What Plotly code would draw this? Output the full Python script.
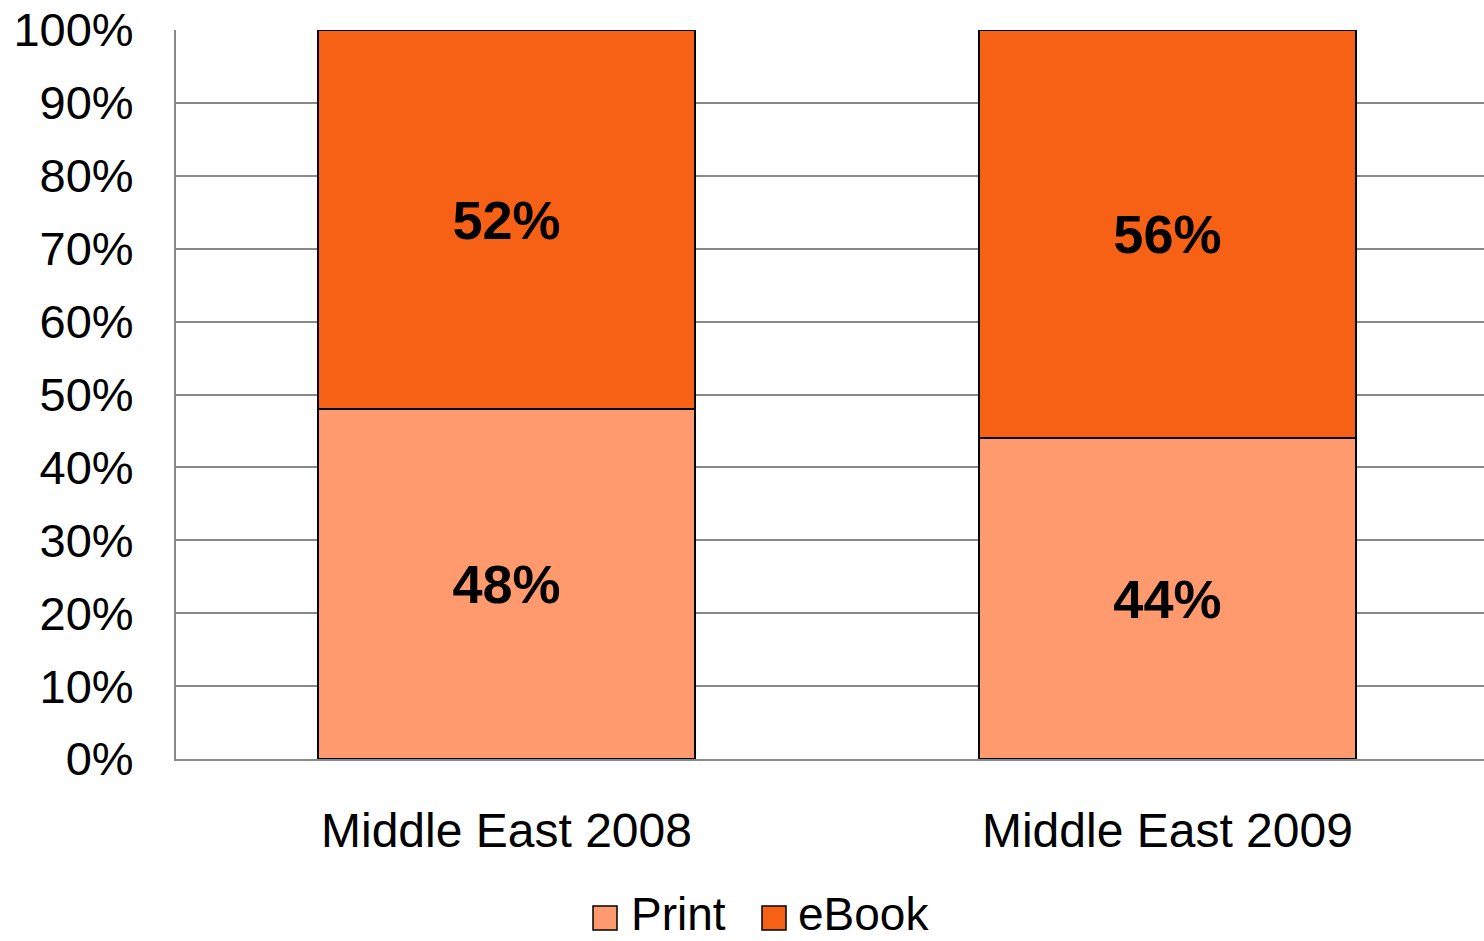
import plotly.graph_objects as go

# Share of sales by format, per year
categories = ["Middle East 2008", "Middle East 2009"]
print_share = [0.48, 0.44]
ebook_share = [0.52, 0.56]
series_names = ["Print", "eBook"]
series_colors = ["#FF9A6E", "#F76116"]

FONT = "Liberation Sans, Arial, sans-serif"

fig = go.Figure()
for name, vals, color in zip(series_names, [print_share, ebook_share], series_colors):
    fig.add_trace(go.Bar(
        x=categories,
        y=vals,
        name=name,
        width=0.57,
        marker=dict(color=color, line=dict(color="#000000", width=1.5)),
        text=[f"{v:.0%}" for v in vals],
        texttemplate="<b>%{text}</b>",
        textposition="inside",
        insidetextanchor="middle",
        textfont=dict(family=FONT, size=54, color="#000000"),
        showlegend=False,
        hoverinfo="skip",
    ))

# Legend drawn as swatches + labels below the plot
legend_items = [(593, 630, series_names[0], series_colors[0]),
                (762, 797, series_names[1], series_colors[1])]
W, H = 1484, 941
ML, MR, MT, MB = 176, 0, 30, 182
pw, ph = W - ML - MR, H - MT - MB

def px_x(x):
    return (x - ML) / pw

def px_y(y):
    return (H - MB - y) / ph

shapes = []
annotations = []
for sx, tx, name, color in legend_items:
    shapes.append(dict(type="rect", xref="paper", yref="paper",
                       x0=px_x(sx), x1=px_x(sx + 24), y0=px_y(930), y1=px_y(906),
                       fillcolor=color, line=dict(color="#000000", width=1.5)))
    annotations.append(dict(xref="paper", yref="paper", x=px_x(tx), y=px_y(941),
                            xanchor="left", yanchor="bottom", text=name, showarrow=False,
                            borderpad=0,
                            font=dict(family=FONT, size=46, color="#000000")))

fig.update_layout(
    width=W, height=H,
    margin=dict(l=ML, r=MR, t=MT, b=MB),
    barmode="stack",
    plot_bgcolor="#FFFFFF",
    paper_bgcolor="#FFFFFF",
    font=dict(family=FONT, size=47, color="#000000"),
    shapes=shapes,
    annotations=annotations,
    xaxis=dict(
        range=[-0.5, 1.479],
        showgrid=False,
        showline=True, linecolor="#888888", linewidth=2,
        ticks="", ticklabelstandoff=28,
        tickfont=dict(family=FONT, size=48, color="#000000"),
        fixedrange=True,
    ),
    yaxis=dict(
        range=[0, 1],
        dtick=0.1,
        tickformat=".0%",
        showgrid=True, gridcolor="#888888", gridwidth=1.5,
        showline=True, linecolor="#888888", linewidth=2,
        zeroline=False,
        ticks="", ticklabelstandoff=31,
        tickfont=dict(family=FONT, size=47, color="#000000"),
        fixedrange=True,
    ),
)

fig.write_html("out.html")
